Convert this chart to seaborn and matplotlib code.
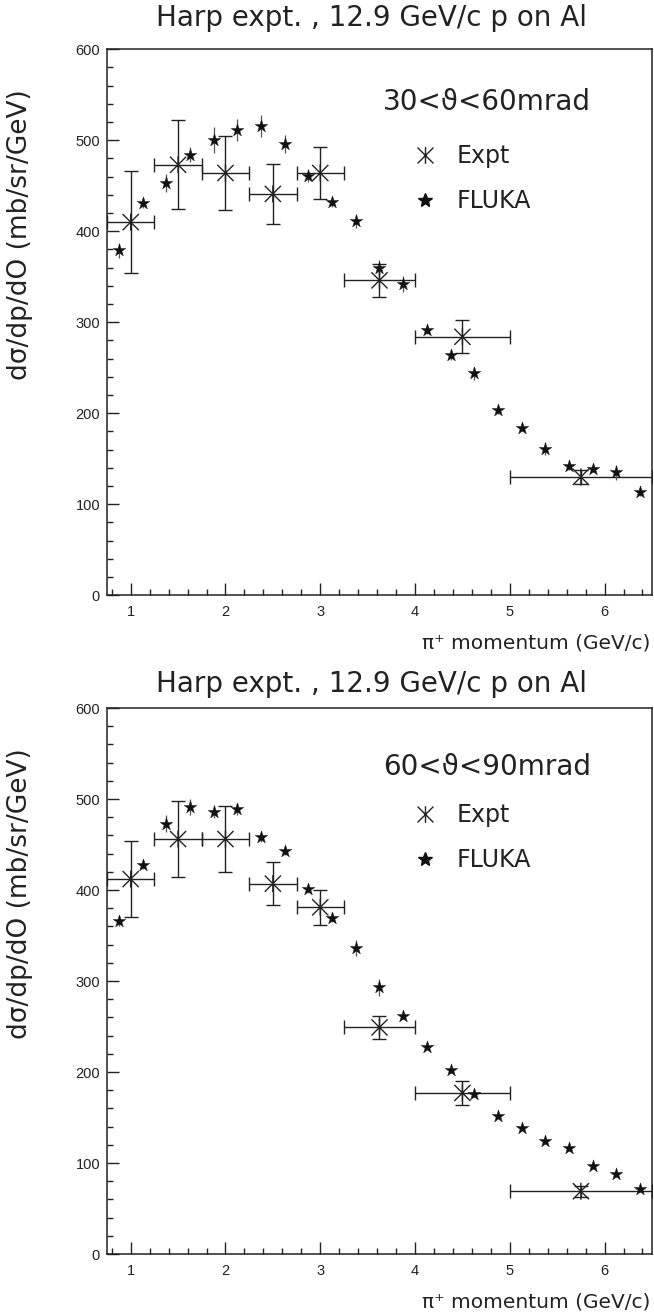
import matplotlib
matplotlib.use("Agg")
import matplotlib.pyplot as plt
import seaborn as sns
from matplotlib.path import Path
from matplotlib.lines import Line2D
from matplotlib.ticker import MultipleLocator, FixedLocator

# ---- data -----------------------------------------------------------------
title = "Harp expt. , 12.9 GeV/c p on Al"
angle_ranges = ["30<ϑ<60mrad", "60<ϑ<90mrad"]
angle_label_y = [542, 535]
x_label = "π⁺ momentum (GeV/c)"
y_label = "dσ/dp/dO (mb/sr/GeV)"
series_names = ["Expt", "FLUKA"]

# HARP momentum bins (GeV/c)
expt_p = [1.0, 1.5, 2.0, 2.5, 3.0, 3.625, 4.5, 5.75]
expt_p_lo = [0.75, 1.25, 1.75, 2.25, 2.75, 3.25, 4.0, 5.0]
expt_p_hi = [1.25, 1.75, 2.25, 2.75, 3.25, 4.0, 5.0, 6.5]

expt_30_60 = [410, 473, 464, 441, 464, 346, 284, 130]
expt_30_60_err = [56, 49, 41, 33, 29, 18, 18, 8]
expt_60_90 = [412, 456, 456, 407, 381, 249, 177, 69]
expt_60_90_err = [42, 42, 36, 24, 19, 13, 13, 6]

# FLUKA prediction
fluka_p = [0.875, 1.125, 1.375, 1.625, 1.875, 2.125, 2.375, 2.625, 2.875,
           3.125, 3.375, 3.625, 3.875, 4.125, 4.375, 4.625, 4.875, 5.125,
           5.375, 5.625, 5.875, 6.125, 6.375]
fluka_30_60 = [379, 431, 453, 484, 500, 511, 516, 496, 461, 432, 411, 360,
               342, 292, 264, 244, 203, 184, 161, 142, 139, 135, 113]
fluka_30_60_err = [8, 5, 10, 8, 14, 12, 12, 10, 7, 5, 8, 8, 9, 5, 6, 7, 4,
                   4, 7, 4, 4, 8, 4]
fluka_60_90 = [366, 428, 473, 491, 486, 489, 458, 443, 401, 369, 336, 293,
               262, 228, 202, 176, 152, 139, 124, 116, 97, 88, 71]
fluka_60_90_err = [5, 5, 9, 9, 7, 7, 5, 4, 4, 4, 9, 9, 4, 3, 3, 3, 3, 3, 3,
                   3, 3, 3, 3]

x_range = (0.75, 6.5)
y_range = (0, 600)

# ---- style ----------------------------------------------------------------
sns.set_theme(style="ticks")
plt.rcParams["font.family"] = ["DejaVu Sans"]
INK = "#222222"
TICK_FONT = "Liberation Sans"

# asterisk-like marker: an X crossed by a vertical stroke
asterisk = Path(
    [(-1, -1), (1, 1), (-1, 1), (1, -1), (0, -1.05), (0, 1.05)],
    [Path.MOVETO, Path.LINETO, Path.MOVETO, Path.LINETO, Path.MOVETO, Path.LINETO],
)

fig = plt.figure(figsize=(6.54, 13.16), dpi=100)
positions = [[0.1636, 0.5477, 0.8333, 0.4149], [0.1636, 0.0471, 0.8333, 0.4149]]
panels = [
    (expt_30_60, expt_30_60_err, fluka_30_60, fluka_30_60_err),
    (expt_60_90, expt_60_90_err, fluka_60_90, fluka_60_90_err),
]
title_y = [1 - 18 / 1316, 1 - 684 / 1316]

for i, (pos, (ev, ee, fv, fe)) in enumerate(zip(positions, panels)):
    ax = fig.add_axes(pos)
    ax.set_facecolor("white")

    xerr = [[p - lo for p, lo in zip(expt_p, expt_p_lo)],
            [hi - p for p, hi in zip(expt_p, expt_p_hi)]]
    ax.errorbar(expt_p, ev, yerr=ee, xerr=xerr, fmt="none", ecolor=INK,
                elinewidth=1.0, capsize=5, capthick=1.0, zorder=2)
    ax.errorbar(fluka_p, fv, yerr=fe, fmt="none", ecolor="#555555",
                elinewidth=0.9, capsize=0, zorder=2)

    sns.scatterplot(x=expt_p, y=ev, marker=asterisk, s=150, color=INK,
                    facecolor="none", edgecolor=INK, linewidth=1.0, ax=ax,
                    zorder=3, legend=False)
    sns.scatterplot(x=fluka_p, y=fv, marker="*", s=90, color="#111111",
                    edgecolor="#111111", linewidth=0.3, ax=ax, zorder=3,
                    legend=False)

    ax.set_xlim(*x_range)
    ax.set_ylim(*y_range)
    ax.xaxis.set_major_locator(FixedLocator([1, 2, 3, 4, 5, 6]))
    ax.xaxis.set_minor_locator(MultipleLocator(0.2))
    ax.yaxis.set_major_locator(MultipleLocator(100))
    ax.yaxis.set_minor_locator(MultipleLocator(20))
    ax.tick_params(which="both", direction="in", top=False, right=False,
                   color=INK, width=1.0)
    ax.tick_params(which="major", length=8.5)
    ax.tick_params(which="minor", length=4.3)
    ax.tick_params(axis="y", which="major", pad=5)
    ax.tick_params(axis="x", which="major", pad=7)
    for lab in ax.get_xticklabels() + ax.get_yticklabels():
        lab.set_fontfamily(TICK_FONT)
        lab.set_fontsize(10.5)
        lab.set_color(INK)
    for sp in ax.spines.values():
        sp.set_visible(True)
        sp.set_color(INK)
        sp.set_linewidth(1.1)

    ax.set_xlabel(x_label, fontsize=14.5, color=INK, loc="right")
    ax.xaxis.set_label_coords(0.9963, -0.0874)
    ax.xaxis.label.set_va("center")
    ax.set_ylabel(y_label, fontsize=19, color=INK)
    ax.yaxis.set_label_coords(-0.16, 0.66)
    ax.yaxis.label.set_va("center")

    ax.text(4.76, angle_label_y[i], angle_ranges[i], fontsize=20,
            color=INK, ha="center", va="center",
            family=["DejaVu Sans"])

    handles = [
        Line2D([], [], ls="none", marker=asterisk, markersize=12,
               markerfacecolor="none", markeredgecolor=INK, markeredgewidth=1.0),
        Line2D([], [], ls="none", marker="*", markersize=10,
               color="#111111"),
    ]
    ax.legend(handles, series_names, loc="upper left",
              bbox_to_anchor=(0.561, 0.826), frameon=False, fontsize=17,
              handlelength=1.0, handletextpad=0.85, labelspacing=0.9,
              borderpad=0, borderaxespad=0, labelcolor=INK)

    fig.text(372 / 654, title_y[i], title, fontsize=20, color=INK,
             ha="center", va="center")

fig.savefig("out.png", dpi=100, facecolor="white")
